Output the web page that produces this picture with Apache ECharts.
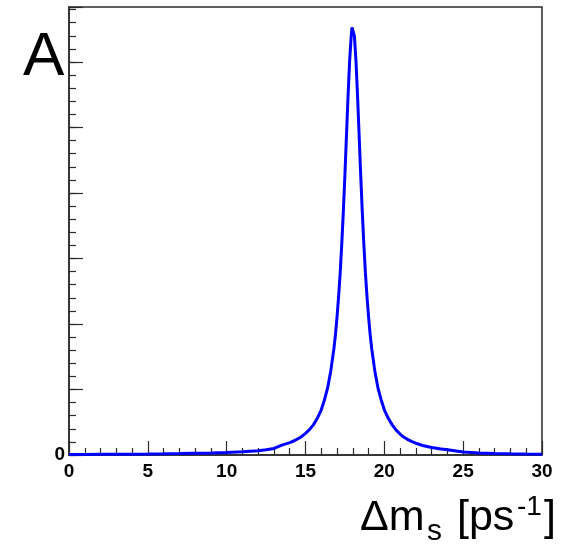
<!DOCTYPE html>
<html>
<head>
<meta charset="utf-8">
<script src="https://cdn.jsdelivr.net/npm/echarts@6/dist/echarts.min.js"></script>
<style>html,body{margin:0;padding:0;background:#fff;}#c{width:571px;height:544px;}</style>
</head>
<body>
<div id="c"></div>
<script>
// Δm_s scan (y in arbitrary units, 1 unit = one major tick)
const dmVals = [0, 1, 2, 3, 4, 5, 6, 7, 8, 9, 10, 11, 12, 12.5, 13, 13.5, 14, 14.25, 14.5, 14.75, 15, 15.25, 15.5, 15.75, 16, 16.2, 16.4, 16.6, 16.8, 16.9,
  17.0, 17.1, 17.2, 17.3, 17.4, 17.5, 17.6, 17.7, 17.8, 17.9, 17.95, 18.05, 18.1, 18.2, 18.3, 18.4, 18.5, 18.6, 18.7, 18.8, 18.9,
  19.0, 19.1, 19.2, 19.4, 19.6, 19.8, 20.0, 20.25, 20.5, 20.75, 21, 21.25, 21.5, 21.75, 22, 22.5, 23, 23.5, 24, 25, 26, 27, 28, 29, 30];
const likeVals = [0.008, 0.009, 0.010, 0.011, 0.013, 0.015, 0.018, 0.022, 0.027, 0.032, 0.040, 0.050, 0.065, 0.080, 0.100, 0.150, 0.19, 0.214, 0.245, 0.281, 0.33, 0.387, 0.46, 0.56, 0.69, 0.84, 1.02, 1.28, 1.62, 1.84,
  2.11, 2.42, 2.78, 3.22, 3.72, 4.28, 4.89, 5.49, 6.02, 6.40, 6.53, 6.53, 6.40, 6.02, 5.49, 4.89, 4.28, 3.72, 3.22, 2.78, 2.42,
  2.11, 1.84, 1.62, 1.28, 1.02, 0.84, 0.69, 0.56, 0.46, 0.38, 0.32, 0.27, 0.235, 0.205, 0.18, 0.14, 0.115, 0.095, 0.08, 0.045, 0.030, 0.022, 0.018, 0.015, 0.013];
const xTickLabels = ['0', '5', '10', '15', '20', '25', '30'];
const yTickLabel = '0';

const seriesData = dmVals.map((x, i) => [x, likeVals[i]]);
const axisColor = '#2a2a2a';
const chart = echarts.init(document.getElementById('c'), null, {renderer: 'canvas'});
const txt = (x, y, text, size) => ({type: 'text', x: x, y: y, style: {text: text, font: size + 'px "Liberation Sans"', fill: '#000', align: 'left', verticalAlign: 'middle', textAlign: 'left', textVerticalAlign: 'middle'}});
chart.setOption({
  animation: false,
  backgroundColor: '#fff',
  grid: {left: 69, right: 29, top: 7, bottom: 89, show: true, borderColor: axisColor, borderWidth: 1.5, backgroundColor: 'transparent'},
  xAxis: {
    type: 'value', min: 0, max: 30, interval: 5,
    axisLine: {show: true, lineStyle: {color: axisColor, width: 1.5}},
    axisTick: {show: true, inside: true, length: 14, lineStyle: {color: axisColor, width: 1.2}},
    minorTick: {show: true, splitNumber: 5, length: 7, lineStyle: {color: axisColor, width: 1.2}},
    splitLine: {show: false}, minorSplitLine: {show: false},
    axisLabel: {
      margin: 7, color: '#000', fontFamily: 'Liberation Sans', fontWeight: 'bold', fontSize: 19,
      formatter: v => { const i = xTickLabels.indexOf(String(v)); return i >= 0 ? xTickLabels[i] : ''; }
    }
  },
  yAxis: [{
    type: 'value', min: 0, max: 6.84, interval: 1, position: 'left',
    axisLine: {show: true, lineStyle: {color: axisColor, width: 1.5}},
    axisTick: {show: true, inside: true, length: 14, lineStyle: {color: axisColor, width: 1.2}},
    splitLine: {show: false},
    axisLabel: {margin: 4, color: '#000', fontFamily: 'Liberation Sans', fontWeight: 'bold', fontSize: 19,
      formatter: v => (v === 0 ? yTickLabel : '')}
  }, {
    type: 'value', min: 0, max: 6.84, interval: 0.2, position: 'left', offset: 0,
    axisLine: {show: false},
    axisTick: {show: true, inside: true, length: 7, lineStyle: {color: axisColor, width: 1.2}},
    splitLine: {show: false},
    axisLabel: {show: false}
  }],
  series: [{
    type: 'line', xAxisIndex: 0, yAxisIndex: 0, data: seriesData,
    showSymbol: false, clip: false, z: 5,
    lineStyle: {color: '#0000ff', width: 3, join: 'bevel'}
  }],
  graphic: [
    txt(23, 58, 'A', 62),
    txt(360, 518, 'Δm', 43),
    txt(427, 532, 's', 30),
    txt(457, 518, '[ps', 43),
    txt(517, 507, '-1', 28),
    txt(544, 518, ']', 43)
  ]
});
</script>
</body>
</html>
